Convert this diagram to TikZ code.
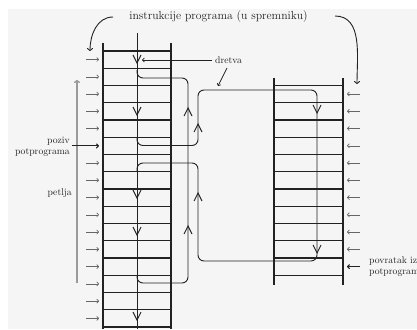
\documentclass[tikz,border=0pt]{standalone}
\usetikzlibrary{arrows.meta}
\definecolor{bg}{HTML}{F5F5F5}
\definecolor{ink}{HTML}{222222}
\definecolor{gink}{HTML}{666666}
\definecolor{lgray}{HTML}{9A9A9A}
\tikzset{
  grid/.style={draw=ink, line width=1.1pt},
  thread/.style={draw=ink, line width=0.9pt, rounded corners=6pt},
  small/.style={draw=gink, line width=0.7pt, -{To[length=2.6pt,width=4.5pt]}},
  bold/.style={draw=ink, line width=1.0pt, -{To[length=3pt,width=5pt]}},
  lbl/.style={font=\fontsize{9.7}{11}\selectfont, text=ink, inner sep=0pt},
  dn/.pic={\draw[ink, line width=0.9pt] (-4,-8) -- (0,0) -- (4,-8);},
  up/.pic={\draw[ink, line width=0.9pt] (-4,8) -- (0,0) -- (4,8);},
}
\begin{document}
\begin{tikzpicture}[x=1pt,y=-1pt]
\useasboundingbox (0,0) rectangle (417,329);
\fill[bg] (8,9) rectangle (417,329);
% title and curved arrows
\node[font=\fontsize{11.7}{13}\selectfont, text=ink, inner sep=0pt] (title) at (218.5,17) {instrukcije programa (u spremniku)};
\coordinate (tl) at (113,17);
\coordinate (tlend) at (90,51);
\coordinate (tr) at (335,16);
\coordinate (trend) at (357,84);
\draw[ink, line width=0.9pt, -{To[length=3pt,width=6pt]}] (tl) to[out=180,in=90] (tlend);
\draw[ink, line width=0.9pt, -{To[length=3pt,width=6pt]}] (tr) to[out=0,in=90] (trend);
% left column
\draw[grid] (103,43) -- (103,329);
\draw[grid] (171,43) -- (171,329);
\foreach \k in {0,...,16} \draw[grid] (103,51+17.25*\k) -- (171,51+17.25*\k);
% right column
\draw[grid] (274,78) -- (274,285);
\draw[grid] (343,78) -- (343,285);
\foreach \k in {2,...,13} \draw[grid] (274,51+17.25*\k) -- (343,51+17.25*\k);
% left small arrows
\foreach \k in {0,...,4,6,7,...,15} \draw[small] (86,59.6+17.25*\k) -- (99,59.6+17.25*\k);
% right small arrows
\foreach \k in {2,...,11} \draw[small] (360,59.6+17.25*\k) -- (347,59.6+17.25*\k);
% thread: main line
\draw[thread] (137,33) -- (137,329);
% loop
\draw[thread] (137,70) -- (137,78) -- (188,78) -- (188,283) -- (137,283) -- (137,275);
% call of subroutine
\draw[thread] (137,137) -- (137,145.5) -- (198,145.5) -- (198,90) -- (317,90) -- (317,261) -- (198,261) -- (198,163) -- (137,163) -- (137,171);
% direction marks
\foreach \y in {63,115,198,235,320} \pic at (137,\y) {dn};
\foreach \y in {108,226} \pic at (188,\y) {up};
\foreach \y in {124,193} \pic at (198,\y) {up};
\foreach \y in {113,253} \pic at (317,\y) {dn};
% loop label
\node[lbl, anchor=east] (petlja) at (72,193) {petlja};
\coordinate (loopbot) at (77,283);
\coordinate (looptop) at (77,80);
\draw[lgray, line width=1.3pt, -{To[length=3pt,width=6pt]}] (loopbot) -- (looptop);
% call label
\node[lbl, anchor=east, align=right] (poziv) at (70,146.5) {poziv\\potprograma};
\coordinate (pozivtip) at (99,145.9);
\draw[bold] (72,145.9) -- (pozivtip);
% return label
\node[lbl, anchor=west, align=left] (povratak) at (369,267) {povratak iz\\potprograma};
\coordinate (povtip) at (347,266.6);
\draw[bold] (360,266.6) -- (povtip);
% thread label
\node[lbl, anchor=west] (dretva) at (215,60) {dretva};
\coordinate (dtip1) at (142,60);
\coordinate (dtip2) at (218,86);
\draw[ink, line width=0.7pt, -{To[length=2.6pt,width=4.5pt]}] (212,60) -- (dtip1);
\draw[ink, line width=0.7pt, -{To[length=2.6pt,width=4.5pt]}] (227,68) -- (dtip2);
\end{tikzpicture}
\end{document}
